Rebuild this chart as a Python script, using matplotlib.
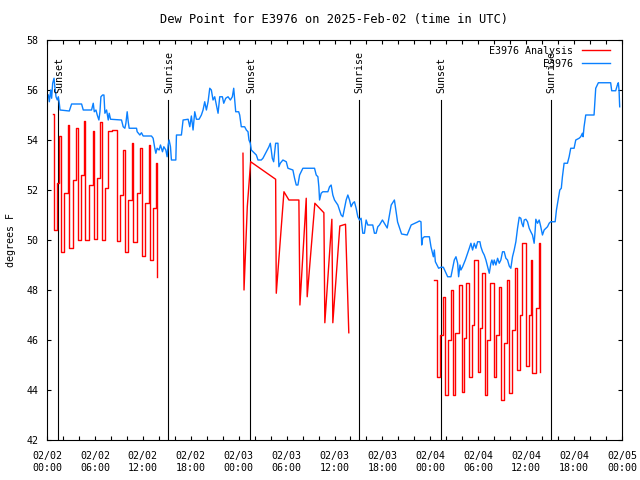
#!usr/bin/env python

import numpy as np
import matplotlib
matplotlib.use('Agg')
import matplotlib.pyplot as plt

#---------------------------------------
# hours since 2025-02-02 00:00 UTC, dew point in F

obs_hours = [0.17, 0.29, 0.46, 0.58, 0.71, 0.88, 1.0, 1.13, 1.29, 1.42, 1.54, 1.63, 2.79, 3.08, 4.33, 4.54,
             5.58, 5.79, 5.92, 6.13, 6.29, 6.5, 6.63, 6.75, 6.96, 7.13, 7.25, 7.46, 7.67, 7.79, 7.96, 9.33,
             9.54, 9.75, 9.88, 10.04, 10.17, 10.29, 11.21, 11.29, 11.63, 11.83, 12.04, 13.08, 13.29, 13.5,
             13.63, 13.79, 14.04, 14.21, 14.46, 14.63, 14.88, 15.04, 15.17, 15.29, 15.46, 15.58, 16.13,
             16.21, 16.83, 17.04, 17.67, 17.88, 18.08, 18.29, 18.5, 18.71, 19.04, 19.33, 19.54, 19.75,
             19.96, 20.17, 20.38, 20.58, 20.79, 21.0, 21.21, 21.42, 21.63, 21.96, 22.13, 22.38, 22.67,
             22.96, 23.21, 23.38, 23.5, 23.63, 24.0, 24.13, 24.33, 24.75, 24.96, 25.17, 25.29, 25.46,
             25.58, 26.0, 26.21, 26.42, 26.83, 27.04, 27.25, 27.46, 27.79, 27.96, 28.08, 28.21, 28.38,
             28.63, 28.92, 29.04, 29.21, 29.54, 29.96, 30.17, 30.79, 31.0, 31.21, 31.42, 31.63, 32.04,
             33.5, 33.71, 33.92, 34.04, 34.13, 34.33, 34.54, 35.17, 35.38, 35.58, 35.79, 36.0, 36.42,
             36.63, 36.83, 37.04, 37.25, 37.46, 37.67, 37.88, 38.08, 38.29, 38.5, 38.71, 38.92, 39.13,
             39.33, 39.54, 39.75, 39.96, 40.17, 40.79, 41.0, 41.21, 41.42, 41.63, 42.0, 42.6, 43.1, 43.5,
             43.9, 44.4, 45.1, 45.6, 46.4, 46.63, 46.83, 46.92, 47.04, 47.25, 47.88, 48.08, 48.38, 48.5,
             48.63, 49.04, 49.33, 49.63, 49.88, 50.17, 50.58, 50.79, 51.0, 51.21, 51.42, 51.54, 51.71,
             51.83, 52.04, 52.38, 52.67, 52.88, 53.08, 53.29, 53.5, 53.71, 53.92, 54.21, 54.33, 54.54,
             54.75, 54.96, 55.17, 55.38, 55.58, 55.71, 55.88, 56.0, 56.21, 56.42, 56.63, 56.83, 57.04,
             57.25, 57.46, 57.67, 57.88, 58.08, 58.29, 58.5, 58.71, 58.92, 59.13, 59.33, 59.46, 59.63,
             59.75, 59.96, 60.17, 60.38, 60.58, 60.79, 61.0, 61.13, 61.21, 61.42, 61.63, 61.83, 62.04,
             62.25, 62.67, 62.88, 63.08, 63.63, 63.79, 64.04, 64.21, 64.4, 64.54, 64.75, 65.17, 65.38,
             65.58, 66.0, 66.21, 66.63, 66.83, 67.04, 67.13, 67.25, 67.46, 68.5, 68.71, 69.04, 70.58,
             70.71, 71.21, 71.42, 71.54, 71.63, 71.71]
obs_dewpt = [55.8, 55.53, 56.0, 55.67, 56.27, 56.47, 56.07, 55.73, 55.6, 55.73, 55.47, 55.2, 55.16, 55.44, 55.44, 55.2,
             55.2, 55.47, 55.13, 55.2, 55.0, 54.8, 55.13, 55.73, 55.8, 55.8, 55.07, 55.2, 54.8, 55.07, 54.83, 54.8,
             54.53, 54.47, 54.67, 55.13, 54.73, 54.47, 54.47, 54.33, 54.2, 54.29, 54.16, 54.16, 54.07, 53.67,
             53.47, 53.67, 53.6, 53.8, 53.53, 53.73, 53.6, 53.33, 53.8, 54.0, 53.73, 53.2, 53.2,
             54.2, 54.2, 54.8, 54.83, 54.53, 54.96, 54.4, 55.13, 54.83, 54.83, 55.0, 55.2, 55.53,
             55.2, 55.53, 56.07, 56.0, 55.6, 55.73, 55.4, 55.07, 55.73, 55.73, 55.47, 55.67, 55.73,
             55.6, 55.73, 56.07, 55.6, 55.13, 55.13, 55.0, 54.53, 54.53, 54.4, 54.33, 54.0, 53.87,
             53.6, 53.47, 53.4, 53.2, 53.2, 53.27, 53.4, 53.53, 53.73, 53.87, 53.6, 53.27, 53.13,
             53.87, 53.87, 52.93, 53.07, 53.2, 53.13, 52.87, 52.8, 52.47, 52.2, 52.2, 52.6, 52.87,
             52.87, 52.6, 52.53, 52.13, 51.6, 51.87, 51.93, 51.93, 52.13, 52.2, 51.8, 51.6, 51.4,
             51.2, 51.0, 50.93, 51.27, 51.6, 51.8, 51.6, 51.33, 51.47, 51.53, 51.27, 50.93, 50.8,
             50.87, 50.27, 50.27, 50.8, 50.6, 50.6, 50.27, 50.27, 50.53, 50.6, 50.8, 50.48, 51.4, 51.6,
             50.72, 50.24, 50.2, 50.6, 50.72, 50.76, 50.73, 49.8, 50.07, 50.13, 50.13, 49.73, 49.33, 49.6,
             49.13, 48.87, 48.91, 48.91, 48.73, 48.53, 48.53, 48.87, 49.2, 49.33, 49.07, 48.53, 49.0,
             48.8, 48.93, 49.2, 49.47, 49.67, 49.87, 49.6, 49.87, 49.67, 49.93, 49.93, 49.73, 49.53,
             49.4, 49.2, 48.93, 48.67, 49.07, 49.2, 49.0, 49.2, 49.0, 49.27, 49.07, 49.2, 49.53,
             49.53, 49.27, 49.2, 48.96, 48.87, 49.33, 49.6, 49.93, 50.47, 50.91, 50.87, 50.67, 50.53,
             50.8, 50.83, 50.73, 50.47, 50.33, 50.2, 49.87, 50.4, 50.83, 50.67, 50.8, 50.53, 50.2,
             50.4, 50.53, 50.67, 50.73, 50.73, 51.2, 51.67, 52.0, 52.07, 52.53, 53.07, 53.07, 53.33,
             53.67, 53.67, 54.0, 54.07, 54.13, 54.27, 54.13, 54.53, 55.0, 55.0, 56.07, 56.29, 56.29,
             55.97, 55.97, 56.2, 56.29, 56.0, 55.33]

# analysis, three pieces (1 and 3 drawn as steps)
ana1_hours = [0.79, 0.83, 1.2, 1.54, 1.75, 2.17, 2.67, 2.79, 3.2, 3.63, 3.83, 4.25, 4.67, 4.79, 5.25, 5.71,
              5.83, 6.25, 6.67, 6.88, 7.2, 7.58, 7.9, 8.2, 8.54, 8.75, 9.1, 9.46, 9.79, 10.2, 10.63, 10.83,
              11.25, 11.67, 11.88, 12.3, 12.71, 12.92, 13.3, 13.63, 13.75]
ana1_dewpt = [55.04, 50.4, 52.3, 54.17, 49.53, 51.9, 54.6, 49.69, 52.4, 54.47, 50.0, 52.6, 54.76, 50.0, 52.2, 54.36,
              50.04, 52.5, 54.73, 50.0, 52.1, 54.36, 54.38, 54.4, 54.41, 49.97, 51.8, 53.6, 49.51, 51.6, 53.89, 49.93,
              51.9, 53.67, 49.37, 51.5, 53.8, 49.2, 51.3, 53.07, 48.53]
ana2_hours = [24.54, 24.67, 25.08, 25.5, 28.63, 28.71, 29.67, 30.29, 31.54, 31.67, 32.46, 32.58, 33.54,
              34.67, 34.79, 35.67, 35.79, 36.67, 37.38, 37.79]
ana2_dewpt = [53.47, 48.0, 51.33, 53.13, 52.43, 47.87, 51.93, 51.6, 51.6, 47.4, 51.67, 47.73, 51.47,
              51.09, 46.69, 50.83, 46.69, 50.56, 50.63, 46.29]
ana3_hours = [48.5, 48.79, 49.15, 49.54, 49.79, 50.2, 50.58, 50.79, 51.15, 51.54, 51.96, 52.2, 52.46, 52.88,
              53.2, 53.5, 53.91, 54.2, 54.46, 54.88, 55.15, 55.46, 55.92, 56.2, 56.54, 56.83, 57.2, 57.54,
              57.88, 58.2, 58.58, 58.91, 59.2, 59.54, 59.96, 60.3, 60.63, 60.79, 61.2, 61.63, 61.75]
ana3_dewpt = [48.4, 44.53, 46.2, 47.73, 43.8, 46.0, 48.0, 43.8, 46.3, 48.2, 43.93, 46.1, 48.27, 44.53,
              46.6, 49.2, 44.73, 46.5, 48.67, 43.8, 46.0, 48.27, 44.53, 46.2, 48.13, 43.6, 45.9, 48.4,
              43.87, 46.4, 48.87, 44.8, 47.0, 49.87, 44.96, 47.0, 49.2, 44.67, 47.3, 49.87, 44.73]

sunset_hours = [1.42, 25.43, 49.3]
sunrise_hours = [15.17, 39.04, 63.08]

tick_hours = [0, 6, 12, 18, 24, 30, 36, 42, 48, 54, 60, 66, 72]
tick_labels = ['02/02\n00:00', '02/02\n06:00', '02/02\n12:00', '02/02\n18:00',
               '02/03\n00:00', '02/03\n06:00', '02/03\n12:00', '02/03\n18:00',
               '02/04\n00:00', '02/04\n06:00', '02/04\n12:00', '02/04\n18:00',
               '02/05\n00:00']

#---------------------------------------

plt.rcParams['font.family'] = 'DejaVu Sans Mono'
plt.rcParams['font.size'] = 7.2

fig = plt.figure(figsize=(6.4, 4.8), dpi=100)
ax = fig.add_axes([47/640, 40/480, 575/640, 400/480])

for t in sunset_hours:
    ax.plot([t, t], [42, 55.6], color='black', lw=0.8)
    ax.text(t + 0.12, 55.88, 'Sunset', rotation=90, ha='center', va='bottom')
for t in sunrise_hours:
    ax.plot([t, t], [42, 55.6], color='black', lw=0.8)
    ax.text(t + 0.12, 55.88, 'Sunrise', rotation=90, ha='center', va='bottom')

red = '#ff0000'
blue = '#0a80ff'
ax.plot(ana1_hours, ana1_dewpt, color=red, lw=1.0, drawstyle='steps-post', label='E3976 Analysis')
ax.plot(ana2_hours, ana2_dewpt, color=red, lw=1.0)
ax.plot(ana3_hours, ana3_dewpt, color=red, lw=1.0, drawstyle='steps-post')
ax.plot(obs_hours, obs_dewpt, color=blue, lw=1.0, label='E3976')

ax.set_xlim(0, 72)
ax.set_ylim(42, 58)
ax.set_xticks(tick_hours)
ax.set_xticklabels(tick_labels)
ax.set_xticks(np.arange(0, 73, 2), minor=True)
ax.set_yticks(np.arange(42, 59, 2))
ax.tick_params(which='both', direction='in', top=True, right=True, length=3, width=0.8)
ax.tick_params(axis='x', pad=8)
ax.tick_params(axis='y', pad=6)
for s in ax.spines.values():
    s.set_linewidth(0.8)

ax.set_ylabel('degrees F', labelpad=8)
ax.set_title('Dew Point for E3976 on 2025-Feb-02 (time in UTC)', pad=12)

ax.legend(loc='upper right', bbox_to_anchor=(0.979, 0.985), frameon=False, markerfirst=False,
          borderaxespad=0, borderpad=0, handlelength=2.8, handletextpad=0.9, labelspacing=0.3)

plt.savefig('out.png', dpi=100)
